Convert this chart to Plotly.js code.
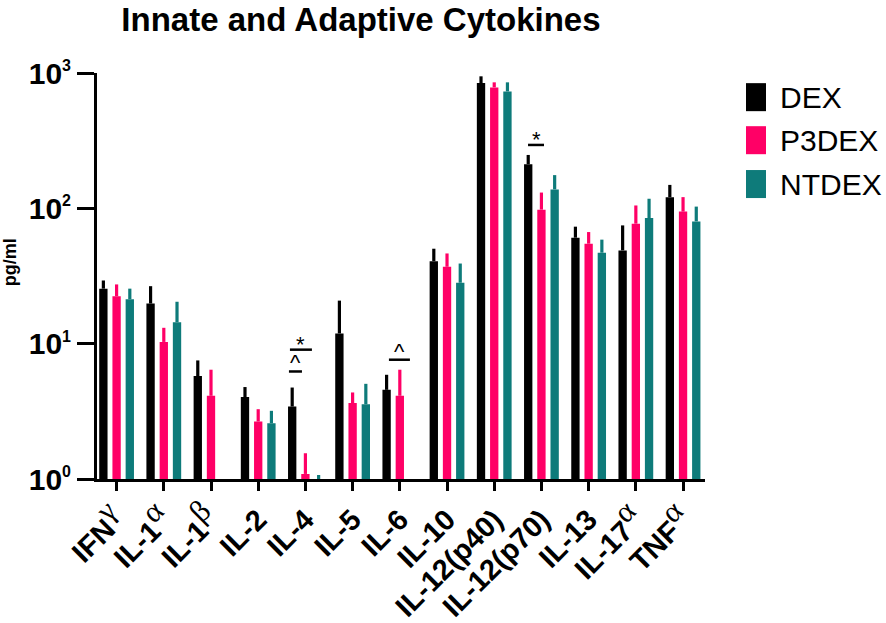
<!DOCTYPE html>
<html>
<head>
<meta charset="utf-8">
<script src="https://cdn.plot.ly/plotly-3.0.1.min.js"></script>
<style>html,body{margin:0;padding:0;background:#fff;}#chart{width:886px;height:623px;}</style>
</head>
<body>
<div id="chart"></div>
<script>
// ---- data ----
var categories = ["IFNγ","IL-1α","IL-1β","IL-2","IL-4","IL-5","IL-6","IL-10","IL-12(p40)","IL-12(p70)","IL-13","IL-17α","TNFα"];
var tickBase   = ["IFN","IL-1","IL-1","IL-2","IL-4","IL-5","IL-6","IL-10","IL-12(p40)","IL-12(p70)","IL-13","IL-17","TNF"];
var tickGreek  = ["γ","α","β","","","","","","","","","α","α"];
var seriesNames = ["DEX","P3DEX","NTDEX"];
var seriesColors = ["#000000","#FF0066","#0E7B7A"];
var DEX      = [25.5, 19.8, 5.76, 4.03, 3.43, 11.9, 4.56, 40.7, 843, 212, 60.7, 48.9, 121];
var DEX_sem  = [3.8, 6.8, 1.76, 0.75, 1.31, 8.9, 1.33, 9.6, 102, 36, 12.5, 25.9, 28];
var P3DEX     = [22.4, 10.3, 4.12, 2.66, 1.09, 3.64, 4.12, 37.0, 783, 97.8, 54.8, 77.0, 94.6];
var P3DEX_sem = [5.0, 2.8, 2.30, 0.62, 0.46, 0.72, 2.30, 9.4, 70, 33, 12.0, 28, 26.4];
var NTDEX     = [21.3, 14.4, null, 2.58, 0.98, 3.57, null, 28.2, 731, 138, 47.0, 84.7, 80.1];
var NTDEX_sem = [4.2, 6.0, null, 0.61, 0.09, 1.48, null, 10.9, 122, 38, 11.7, 33, 22.9];
var yTickVals = [1, 10, 100, 1000];
var yTickExp  = ["0","1","2","3"];
// significance marks: category index, line start/end offsets, line level (pg/ml), symbol
var sigCat  = [4, 4, 6, 9];
var sigX0   = [-0.328, -0.349, -0.231, -0.284];
var sigX1   = [0.138, -0.073, 0.214, 0.055];
var sigY    = [9.03, 6.23, 7.61, 294];
var sigText = ["*", "^", "^", "*"];

// ---- build ----
var values = [DEX, P3DEX, NTDEX];
var sems = [DEX_sem, P3DEX_sem, NTDEX_sem];
var traces = seriesNames.map(function(n, i){
  return {
    type: 'bar', name: n, x: categories, y: values[i],
    marker: {color: seriesColors[i], line: {width: 0}},
    error_y: {type: 'data', symmetric: false, array: sems[i],
              arrayminus: sems[i].map(function(){return 0;}),
              color: seriesColors[i], thickness: 3.2, width: 0},
    showlegend: false, cliponaxis: true
  };
});

var tickText = tickBase.map(function(b, i){
  if (!tickGreek[i]) return b;
  return b + "<sup><span style=\"font-family:'Liberation Serif','DejaVu Serif',serif;font-weight:normal;font-size:31px\">" + tickGreek[i] + "</span></sup>";
});
var yTickText = yTickExp.map(function(e){
  return "10<sup><span style=\"font-size:16px\">" + e + "</span></sup>";
});

var shapes = [], annotations = [];
function py(v){ return Math.log10(v) / 3; }
sigCat.forEach(function(c, i){
  shapes.push({type: 'line', xref: 'x', yref: 'paper',
    x0: c + sigX0[i], x1: c + sigX1[i], y0: py(sigY[i]), y1: py(sigY[i]),
    line: {color: '#000', width: 2.5}});
  annotations.push({xref: 'x', yref: 'paper', x: c + (sigX0[i] + sigX1[i]) / 2,
    y: py(sigY[i]), yanchor: 'bottom', yshift: sigText[i] === '*' ? -9 : -6,
    text: sigText[i], showarrow: false,
    font: {family: 'Liberation Sans, Arial, sans-serif', size: 22, color: '#000'}});
});
// legend (custom)
var legTop = [0.975, 0.869, 0.761];
seriesNames.forEach(function(n, i){
  shapes.push({type: 'rect', xref: 'paper', yref: 'paper',
    x0: 1.0674, x1: 1.1003, y0: legTop[i] - 0.069, y1: legTop[i],
    fillcolor: seriesColors[i], line: {width: 0}});
  annotations.push({xref: 'paper', yref: 'paper', x: 1.120, y: legTop[i] - 0.0345,
    xanchor: 'left', yanchor: 'middle', text: n, showarrow: false,
    font: {family: 'Liberation Sans, Arial, sans-serif', size: 30, color: '#000'}});
});
// y-axis title
annotations.push({xref: 'paper', yref: 'paper', x: -0.143, y: 0.534,
  text: '<b>pg/ml</b>', textangle: -90, showarrow: false,
  xanchor: 'center', yanchor: 'middle',
  font: {family: 'Liberation Sans, Arial, sans-serif', size: 18, color: '#000'}});

var layout = {
  width: 886, height: 623,
  margin: {l: 97, r: 181, t: 73, b: 144},
  paper_bgcolor: '#fff', plot_bgcolor: '#fff',
  font: {family: 'Liberation Sans, Arial, sans-serif', color: '#000'},
  title: {text: '<b>Innate and Adaptive Cytokines</b>', xref: 'container', yref: 'container',
          x: 0.4074, xanchor: 'center', y: 0.968, yanchor: 'middle',
          font: {size: 33, color: '#000', family: 'Liberation Sans, Arial, sans-serif'}},
  barmode: 'group', bargap: 0.16, bargroupgap: 0.37,
  xaxis: {type: 'category', range: [-0.415, 12.465], tickvals: categories, ticktext: tickText,
          tickangle: -45, ticks: 'outside', ticklen: 9, tickwidth: 3, tickcolor: '#000',
          showline: true, linewidth: 3, linecolor: '#000', showgrid: false, zeroline: false,
          tickfont: {size: 29, family: 'Liberation Sans, Arial, sans-serif', color: '#000', weight: 'bold'}},
  yaxis: {type: 'log', range: [0, 3], tickvals: yTickVals, ticktext: yTickText,
          ticks: 'outside', ticklen: 17, tickwidth: 3, tickcolor: '#000',
          showline: true, linewidth: 3, linecolor: '#000', showgrid: false, zeroline: false,
          tickfont: {size: 30, family: 'Liberation Sans, Arial, sans-serif', color: '#000', weight: 'bold'}},
  shapes: shapes, annotations: annotations
};
Plotly.newPlot('chart', traces, layout, {displayModeBar: false, staticPlot: true});
</script>
</body>
</html>
